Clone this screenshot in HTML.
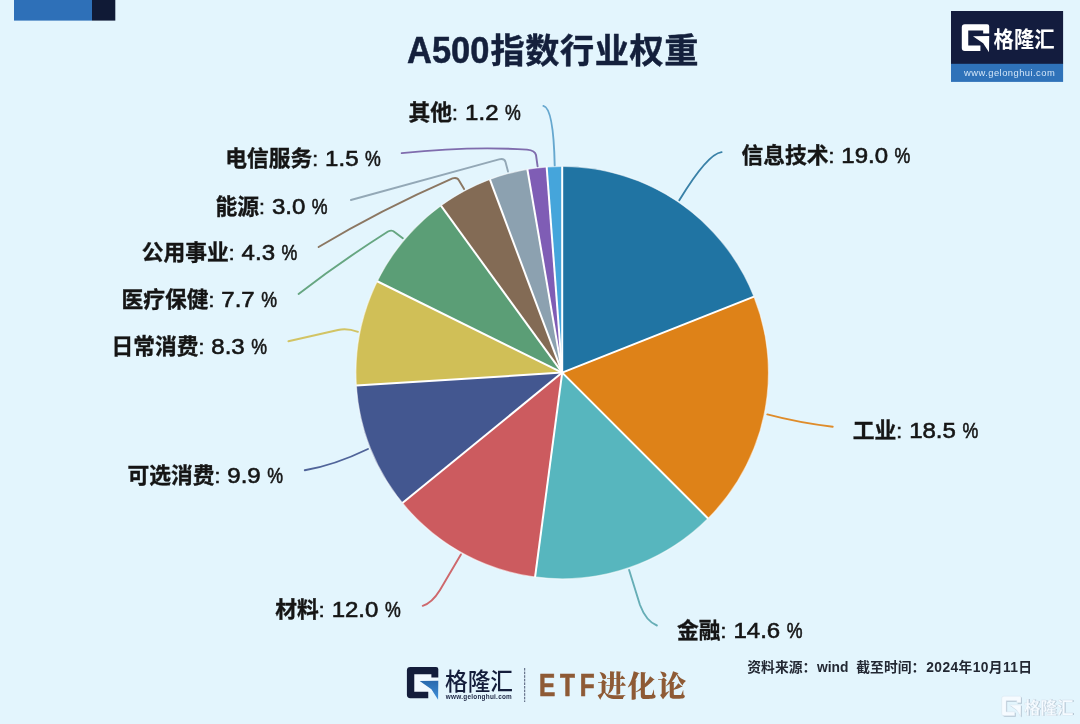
<!DOCTYPE html>
<html lang="zh-CN">
<head>
<meta charset="utf-8">
<title>A500指数行业权重</title>
<style>
html,body{margin:0;padding:0;background:#e3f5fd;}
body{width:1080px;height:724px;overflow:hidden;position:relative;font-family:"Liberation Sans","Noto Sans CJK SC",sans-serif;}
svg{position:absolute;left:0;top:0;display:block}
.lab{font-family:"Liberation Sans","Noto Sans CJK SC",sans-serif;font-size:21px;fill:#151515}
.lab .c{font-weight:700;stroke:#151515;stroke-width:.35px}
.lab .n{font-weight:400;stroke:#151515;stroke-width:.6px}
.title{font-family:"Liberation Sans","Noto Sans CJK SC",sans-serif;font-weight:700;fill:#14203c}
.src{font-family:"Liberation Sans","Noto Sans CJK SC",sans-serif;font-weight:700;font-size:13.8px;fill:#232833}
.ld{fill:none;stroke-width:1.9;stroke-opacity:.92;stroke-linecap:round;stroke-linejoin:round}
</style>
</head>
<body>
<svg width="1080" height="724" viewBox="0 0 1080 724">
<defs><linearGradient id="ag" x1="0" y1="0" x2="0" y2="1"><stop offset="0" stop-color="#2a69ad"/><stop offset="1" stop-color="#3f90da"/></linearGradient></defs>
<rect width="1080" height="724" fill="#e3f5fd"/>
<!-- top-left tab -->
<rect x="14" y="0" width="78" height="20.6" fill="#2e70b8"/>
<rect x="92" y="0" width="23.3" height="20.6" fill="#101a36"/>
<!-- title -->
<text class="title" x="407" y="63.2" font-size="36.3" textLength="82.4" lengthAdjust="spacingAndGlyphs" stroke="#14203c" stroke-width="0.5">A500</text>
<text class="title" x="490.6" y="63.2" font-size="34.2" letter-spacing="0.55" stroke="#14203c" stroke-width="0.45">指数行业权重</text>
<!-- pie -->
<g>

<path d="M562.2 372.6L562.20 166.30A206.3 206.3 0 0 1 754.01 296.66Z" fill="#2074a3"/>
<path d="M562.2 372.6L754.01 296.66A206.3 206.3 0 0 1 708.08 518.48Z" fill="#de8218"/>
<path d="M562.2 372.6L708.08 518.48A206.3 206.3 0 0 1 535.06 577.11Z" fill="#57b6be"/>
<path d="M562.2 372.6L535.06 577.11A206.3 206.3 0 0 1 402.42 503.10Z" fill="#cc5b5f"/>
<path d="M562.2 372.6L402.42 503.10A206.3 206.3 0 0 1 356.31 385.55Z" fill="#435790"/>
<path d="M562.2 372.6L356.31 385.55A206.3 206.3 0 0 1 377.22 281.26Z" fill="#d0bf57"/>
<path d="M562.2 372.6L377.22 281.26A206.3 206.3 0 0 1 440.94 205.70Z" fill="#5b9e76"/>
<path d="M562.2 372.6L440.94 205.70A206.3 206.3 0 0 1 489.88 179.39Z" fill="#836b55"/>
<path d="M562.2 372.6L489.88 179.39A206.3 206.3 0 0 1 527.37 169.26Z" fill="#8ca1b0"/>
<path d="M562.2 372.6L527.37 169.26A206.3 206.3 0 0 1 546.66 166.89Z" fill="#7f5db5"/>
<path d="M562.2 372.6L546.66 166.89A206.3 206.3 0 0 1 562.20 166.30Z" fill="#45a5db"/>
</g>
<circle cx="562.2" cy="372.6" r="206.3" fill="none" stroke="#ffffff" stroke-opacity="0.55" stroke-width="1.2"/>
<g stroke="#ffffff" stroke-width="2" stroke-linecap="butt">
<line x1="562.2" y1="372.6" x2="562.20" y2="166.30"/>
<line x1="562.2" y1="372.6" x2="754.01" y2="296.66"/>
<line x1="562.2" y1="372.6" x2="708.08" y2="518.48"/>
<line x1="562.2" y1="372.6" x2="535.06" y2="577.11"/>
<line x1="562.2" y1="372.6" x2="402.42" y2="503.10"/>
<line x1="562.2" y1="372.6" x2="356.31" y2="385.55"/>
<line x1="562.2" y1="372.6" x2="377.22" y2="281.26"/>
<line x1="562.2" y1="372.6" x2="440.94" y2="205.70"/>
<line x1="562.2" y1="372.6" x2="489.88" y2="179.39"/>
<line x1="562.2" y1="372.6" x2="527.37" y2="169.26"/>
<line x1="562.2" y1="372.6" x2="546.66" y2="166.89"/>
</g
<!-- leader lines -->
<g class="ld">
<path d="M679.3 200.3 Q707.5 153.8 721.6 152.1" stroke="#2a76a0"/>
<path d="M767.3 414.4 Q800 423 832.7 426.7" stroke="#de8218"/>
<path d="M629.1 570 L640 605 Q646 621 656.9 625.5" stroke="#5ba7b0"/>
<path d="M460.9 554.4 L440 590 Q432 603 422.7 605.8" stroke="#cc5b5f"/>
<path d="M368 449 Q335 465 304.8 470.3" stroke="#435790"/>
<path d="M358 331.8 Q347 328 338 330 L288.4 341.3" stroke="#d0bf57"/>
<path d="M402.8 238.3 L394.5 232 Q392 229.5 388 231.5 Q340 262 298.6 293.9" stroke="#5b9e76"/>
<path d="M464.1 189 L459 180.5 Q457.5 177 452.5 178.3 Q380 210 318.6 247" stroke="#836b55"/>
<path d="M508 171.6 L505.5 162 Q504.5 158 499 159.3 L350.9 200" stroke="#8ca1b0"/>
<path d="M537.6 166.4 L536 155 Q535 150.5 527 149.6 Q470 146 401.7 153.1" stroke="#765fa6"/>
<path d="M554.7 165.4 Q553.5 108 543.4 105.9" stroke="#5ba1cb"/>
</g>
<!-- labels -->
<g class="lab">
<text y="163.4"><tspan class="c" x="741.4" font-size="21.75">信息技术</tspan><tspan class="n" x="828.5">:</tspan><tspan class="n" x="841.3" font-size="22.5" textLength="46.7" lengthAdjust="spacingAndGlyphs">19.0</tspan><tspan class="n" x="894.5" font-size="22.5" textLength="15.8" lengthAdjust="spacingAndGlyphs">%</tspan></text>
<text y="437.7"><tspan class="c" x="852.7" font-size="21.75">工业</tspan><tspan class="n" x="896.2">:</tspan><tspan class="n" x="909.2" font-size="22.5" textLength="46.7" lengthAdjust="spacingAndGlyphs">18.5</tspan><tspan class="n" x="962.4" font-size="22.5" textLength="15.8" lengthAdjust="spacingAndGlyphs">%</tspan></text>
<text y="637.5"><tspan class="c" x="677.0" font-size="21.75">金融</tspan><tspan class="n" x="720.6">:</tspan><tspan class="n" x="733.5" font-size="22.5" textLength="46.7" lengthAdjust="spacingAndGlyphs">14.6</tspan><tspan class="n" x="786.7" font-size="22.5" textLength="15.8" lengthAdjust="spacingAndGlyphs">%</tspan></text>
<text y="617.1"><tspan class="c" x="275.2" font-size="21.75">材料</tspan><tspan class="n" x="318.8">:</tspan><tspan class="n" x="331.7" font-size="22.5" textLength="46.7" lengthAdjust="spacingAndGlyphs">12.0</tspan><tspan class="n" x="384.9" font-size="22.5" textLength="15.8" lengthAdjust="spacingAndGlyphs">%</tspan></text>
<text y="482.9"><tspan class="c" x="127.4" font-size="21.75">可选消费</tspan><tspan class="n" x="214.4">:</tspan><tspan class="n" x="227.3" font-size="22.5" textLength="33.4" lengthAdjust="spacingAndGlyphs">9.9</tspan><tspan class="n" x="267.2" font-size="22.5" textLength="15.8" lengthAdjust="spacingAndGlyphs">%</tspan></text>
<text y="353.9"><tspan class="c" x="111.4" font-size="21.75">日常消费</tspan><tspan class="n" x="198.4">:</tspan><tspan class="n" x="211.3" font-size="22.5" textLength="33.4" lengthAdjust="spacingAndGlyphs">8.3</tspan><tspan class="n" x="251.2" font-size="22.5" textLength="15.8" lengthAdjust="spacingAndGlyphs">%</tspan></text>
<text y="306.9"><tspan class="c" x="121.4" font-size="21.75">医疗保健</tspan><tspan class="n" x="208.4">:</tspan><tspan class="n" x="221.3" font-size="22.5" textLength="33.4" lengthAdjust="spacingAndGlyphs">7.7</tspan><tspan class="n" x="261.2" font-size="22.5" textLength="15.8" lengthAdjust="spacingAndGlyphs">%</tspan></text>
<text y="260.4"><tspan class="c" x="141.7" font-size="21.75">公用事业</tspan><tspan class="n" x="228.8">:</tspan><tspan class="n" x="241.6" font-size="22.5" textLength="33.4" lengthAdjust="spacingAndGlyphs">4.3</tspan><tspan class="n" x="281.5" font-size="22.5" textLength="15.8" lengthAdjust="spacingAndGlyphs">%</tspan></text>
<text y="213.6"><tspan class="c" x="215.4" font-size="21.75">能源</tspan><tspan class="n" x="258.9">:</tspan><tspan class="n" x="271.9" font-size="22.5" textLength="33.4" lengthAdjust="spacingAndGlyphs">3.0</tspan><tspan class="n" x="311.8" font-size="22.5" textLength="15.8" lengthAdjust="spacingAndGlyphs">%</tspan></text>
<text y="165.9"><tspan class="c" x="225.2" font-size="21.75">电信服务</tspan><tspan class="n" x="312.2">:</tspan><tspan class="n" x="325.1" font-size="22.5" textLength="33.4" lengthAdjust="spacingAndGlyphs">1.5</tspan><tspan class="n" x="365.0" font-size="22.5" textLength="15.8" lengthAdjust="spacingAndGlyphs">%</tspan></text>
<text y="119.9"><tspan class="c" x="408.6" font-size="21.75">其他</tspan><tspan class="n" x="452.1">:</tspan><tspan class="n" x="465.1" font-size="22.5" textLength="33.4" lengthAdjust="spacingAndGlyphs">1.2</tspan><tspan class="n" x="505.0" font-size="22.5" textLength="15.8" lengthAdjust="spacingAndGlyphs">%</tspan></text>
</g>

<!-- source note -->
<text class="src" y="671.6"><tspan x="747.3">资料来源：</tspan><tspan x="817">wind</tspan> <tspan x="856.3">截至时间：</tspan><tspan x="926.3" textLength="105.8" lengthAdjust="spacing">2024年10月11日</tspan></text>
<!-- top-right logo -->
<g>
<rect x="951" y="11" width="112.1" height="53" fill="#131c3e"/>
<rect x="951" y="63.8" width="112.1" height="18.1" fill="#2f72b9"/>
<path d="M964.81 24.30H987.28Q989.20 24.30 989.20 26.17V33.38H983.17V30.57H968.24V45.53H980.43V51.00H964.81Q961.80 51.00 961.80 48.06V27.24Q961.80 24.30 964.81 24.30ZM972.95 36.31L989.20 36.05L989.01 52.17L983.17 43.36Z" fill="#ffffff"/>
<text x="993.6" y="46.6" font-family="'Liberation Sans','Noto Sans CJK SC',sans-serif" font-weight="700" font-size="21.5" fill="#ffffff" textLength="61" lengthAdjust="spacingAndGlyphs">格隆汇</text>
<text x="964" y="76.3" font-family="'Liberation Sans',sans-serif" font-size="9.4" fill="#d4e6f8" textLength="90.7" lengthAdjust="spacing">www.gelonghui.com</text>
</g>
<!-- bottom logo -->
<g>
<rect x="414" y="674" width="24" height="18" fill="#f6fbff" opacity="0.7"/>
<path d="M410.35 666.90H436.10Q438.30 666.90 438.30 669.10V677.58H431.39V674.28H414.28V691.86H428.25V698.30H410.35Q406.90 698.30 406.90 694.85V670.35Q406.90 666.90 410.35 666.90Z" fill="#141d3b"/>
<path d="M419.68 681.03L438.30 680.72L438.08 699.68L431.39 689.32Z" fill="url(#ag)"/>
<text x="445" y="690.1" font-family="'Liberation Sans','Noto Sans CJK SC',sans-serif" font-weight="500" font-size="23.5" fill="#141d3b" textLength="68" lengthAdjust="spacingAndGlyphs">格隆汇</text>
<text x="445.8" y="699.4" font-family="'Liberation Sans',sans-serif" font-weight="700" font-size="6.4" fill="#1b2442" textLength="66" lengthAdjust="spacing">www.gelonghui.com</text>
<line x1="524.7" y1="668" x2="524.7" y2="702" stroke="#3d4864" stroke-width="0.9" stroke-dasharray="2.6 1"/>
<text transform="scale(0.8,1)" x="673.7 700 724.8" y="696" fill="#8e5a35" font-family="'Liberation Sans',sans-serif" font-weight="700" font-size="30.5" stroke="#8e5a35" stroke-width="0.7">ETF</text>
<text x="597.2" y="697" fill="#8e5a35" font-family="'Liberation Serif','Noto Serif CJK SC',serif" font-weight="900" font-size="29" letter-spacing="1">进化论</text>
</g>
<!-- watermark -->
<g>
<g transform="translate(0.9,0.9)" fill="#9fb0c0" opacity="0.75">
<path d="M1003.82 696.20H1019.65Q1021.00 696.20 1021.00 697.57V702.86H1016.75V700.81H1006.24V711.78H1014.82V715.80H1003.82Q1001.70 715.80 1001.70 713.64V698.36Q1001.70 696.20 1003.82 696.20ZM1009.56 705.02L1021.00 704.82L1020.86 716.66L1016.75 710.19Z"/>
<text x="1024" y="713.6" font-family="'Liberation Sans','Noto Sans CJK SC',sans-serif" font-weight="700" font-size="17.5" textLength="49.5" lengthAdjust="spacingAndGlyphs">格隆汇</text>
</g>
<path d="M1003.82 696.20H1019.65Q1021.00 696.20 1021.00 697.57V702.86H1016.75V700.81H1006.24V711.78H1014.82V715.80H1003.82Q1001.70 715.80 1001.70 713.64V698.36Q1001.70 696.20 1003.82 696.20ZM1009.56 705.02L1021.00 704.82L1020.86 716.66L1016.75 710.19Z" fill="#f6fbff" stroke="#d3e0ea" stroke-width="0.4"/>
<text x="1024" y="713.6" font-family="'Liberation Sans','Noto Sans CJK SC',sans-serif" font-weight="700" font-size="17.5" fill="#f6fbff" stroke="#d3e0ea" stroke-width="0.3" textLength="49.5" lengthAdjust="spacingAndGlyphs">格隆汇</text>
</g>

</svg>
</body>
</html>
